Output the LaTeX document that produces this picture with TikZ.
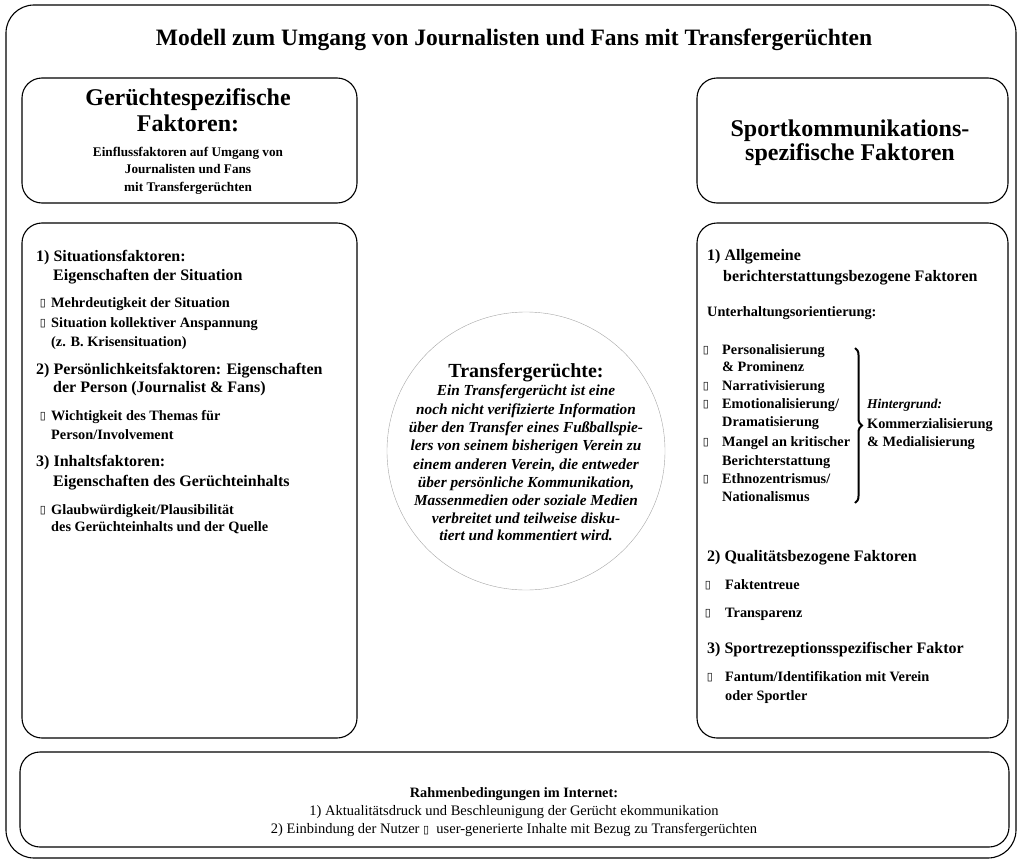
\documentclass[tikz,border=0pt]{standalone}
\usepackage{fontspec}
\setmainfont{Liberation Serif}
\newfontfamily\symfont{DejaVu Sans}
\usetikzlibrary{positioning, decorations.pathreplacing}
\newcommand{\bul}{{\symfont\fontsize{11}{11}\selectfont ▯}}

\begin{document}
\begin{tikzpicture}[x=1pt, y=-1pt,
	box/.style={draw, line width=1.1pt, rounded corners=20pt},
	tx/.style={anchor=west, inner sep=0pt, text height=10pt, text depth=3pt, font=\bfseries\fontsize{14.3}{17}\selectfont},
	hd/.style={tx, font=\bfseries\fontsize{16}{19}\selectfont},
	ctx/.style={tx, anchor=center},
	bx/.style={anchor=center, inner sep=0pt},
	big/.style={anchor=center, inner sep=0pt, text height=16pt, text depth=5pt, font=\bfseries\fontsize{24}{28}\selectfont},
	itx/.style={ctx, font=\bfseries\itshape\fontsize{15.3}{18}\selectfont},
	btx/.style={ctx, font=\fontsize{14.5}{17}\selectfont}]
	\useasboundingbox (0,0) rectangle (1021,862);

	% frames
	\draw [box, rounded corners=28pt] (6,5) rectangle (1016,858);
	\draw [box] (22,78) rectangle (357,203);
	\draw [box] (697,78) rectangle (1008,203);
	\draw [box] (22,223) rectangle (357,738);
	\draw [box] (697,223) rectangle (1008,738);
	\draw [box] (20,752) rectangle (1009,847);
	\draw [gray!70, thin] (526,451) circle [radius=139];

	\node [big, font=\bfseries\fontsize{23.5}{27}\selectfont] (title) at (514,40) {Modell zum Umgang von Journalisten und Fans mit Transfergerüchten};

	% left head
	\node [big] (g1) at (188,100) {Gerüchtespezifische};
	\node [big] (g2) at (188,126) {Faktoren:};
	\node [ctx, font=\bfseries\fontsize{13.2}{15}\selectfont] (g3) at (188,153) {Einflussfaktoren auf Umgang von};
	\node [ctx, font=\bfseries\fontsize{13.2}{15}\selectfont] (g4) at (188,170) {Journalisten und Fans};
	\node [ctx, font=\bfseries\fontsize{13.2}{15}\selectfont] (g5) at (188,188) {mit Transfergerüchten};

	% right head
	\node [big] (s1) at (850,131) {Sportkommunikations-};
	\node [big] (s2) at (850,155) {spezifische Faktoren};

	% left box
	\node [hd] (l1) at (36,258) {1) Situationsfaktoren:};
	\node [hd] (l2) at (53,277) {Eigenschaften der Situation};
	\node [bx] (lb1) at (43,304) {\bul};
	\node [tx] (l3) at (51,304) {Mehrdeutigkeit der Situation};
	\node [bx] (lb2) at (43,324) {\bul};
	\node [tx] (l4) at (51,324) {Situation kollektiver Anspannung};
	\node [tx] (l5) at (51,343) {(z. B. Krisensituation)};
	\node [hd] (l6) at (36,371) {2) Persönlichkeitsfaktoren: Eigenschaften};
	\node [hd] (l7) at (53,389) {der Person (Journalist \& Fans)};
	\node [bx] (lb3) at (43,417) {\bul};
	\node [tx] (l8) at (51,417) {Wichtigkeit des Themas für};
	\node [tx] (l9) at (51,436) {Person/Involvement};
	\node [hd] (l10) at (36,463) {3) Inhaltsfaktoren:};
	\node [hd] (l11) at (53,483) {Eigenschaften des Gerüchteinhalts};
	\node [bx] (lb4) at (43,511) {\bul};
	\node [tx] (l12) at (51,511) {Glaubwürdigkeit/Plausibilität};
	\node [tx] (l13) at (51,528) {des Gerüchteinhalts und der Quelle};

	% circle
	\node [big, font=\bfseries\fontsize{20}{24}\selectfont] (c0) at (526,372) {Transfergerüchte:};
	\foreach \y/\t [count=\i] in {392/{Ein Transfergerücht ist eine},
		411/{noch nicht verifizierte Information},
		429/{über den Transfer eines Fußballspie-},
		447/{lers von seinem bisherigen Verein zu},
		466/{einem anderen Verein, die entweder},
		484/{über persönliche Kommunikation,},
		502/{Massenmedien oder soziale Medien},
		520/{verbreitet und teilweise disku-},
		537/{tiert und kommentiert wird.}}
		\node [itx] (c\i) at (526,\y) {\t};

	% right box
	\node [hd] (r1) at (707,257) {1) Allgemeine};
	\node [hd] (r2) at (723,278) {berichterstattungsbezogene Faktoren};
	\node [tx] (r3) at (707,313) {Unterhaltungsorientierung:};
	\foreach \y in {351,387,405,443,480}
		\node [bx] (rb\y) at (706,\y) {\bul};
	\node [tx] (r4) at (722,351) {Personalisierung};
	\node [tx] (r5) at (722,368) {\& Prominenz};
	\node [tx] (r6) at (722,387) {Narrativisierung};
	\node [tx] (r7) at (722,405) {Emotionalisierung/};
	\node [tx] (r8) at (722,423) {Dramatisierung};
	\node [tx] (r9) at (722,443) {Mangel an kritischer};
	\node [tx] (r10) at (722,462) {Berichterstattung};
	\node [tx] (r11) at (722,480) {Ethnozentrismus/};
	\node [tx] (r12) at (722,498) {Nationalismus};
	\coordinate (brtop) at (855,348);
	\coordinate (brbot) at (855,503);
	\draw [line width=2pt, decorate, decoration={brace, amplitude=7pt}] (brtop) -- (brbot);
	\node [tx, font=\bfseries\itshape\fontsize{13.5}{16}\selectfont] (h1) at (867,405) {Hintergrund:};
	\node [tx] (h2) at (867,425) {Kommerzialisierung};
	\node [tx] (h3) at (867,443) {\& Medialisierung};
	\node [hd] (r13) at (707,558) {2) Qualitätsbezogene Faktoren};
	\node [bx] (rb1) at (708,586) {\bul};
	\node [tx] (r14) at (725,586) {Faktentreue};
	\node [bx] (rb2) at (708,614) {\bul};
	\node [tx] (r15) at (725,614) {Transparenz};
	\node [hd] (r16) at (707,650) {3) Sportrezeptionsspezifischer Faktor};
	\node [bx] (rb3) at (710,678) {\bul};
	\node [tx] (r17) at (725,678) {Fantum/Identifikation mit Verein};
	\node [tx] (r18) at (725,697) {oder Sportler};

	% bottom
	\node [ctx] (n1) at (514,794) {Rahmenbedingungen im Internet:};
	\node [btx] (n2) at (514,812) {1) Aktualitätsdruck und Beschleunigung der Gerücht ekommunikation};
	\node [btx] (n3) at (514,830) {2) Einbindung der Nutzer \bul\ \ user-generierte Inhalte mit Bezug zu Transfergerüchten};
\end{tikzpicture}
\end{document}
